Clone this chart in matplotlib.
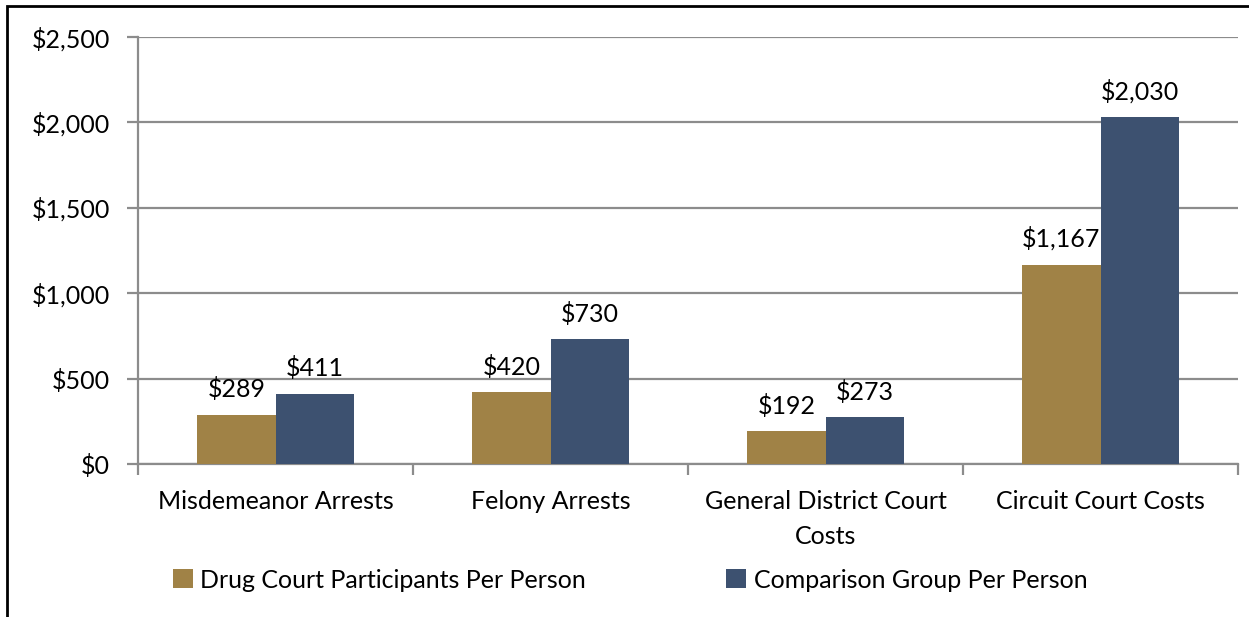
import matplotlib.pyplot as plt
from matplotlib.patches import Rectangle
import numpy as np

categories = ["Misdemeanor Arrests", "Felony Arrests", "General District Court\nCosts", "Circuit Court Costs"]
drug_court = [289, 420, 192, 1167]
comparison = [411, 730, 273, 2030]
series_names = ["Drug Court Participants Per Person", "Comparison Group Per Person"]
y_ticks = [0, 500, 1000, 1500, 2000, 2500]

tan = "#A08246"
navy = "#3D5170"
grey = "#8C8C8C"

plt.rcParams['font.family'] = ['Lato', 'DejaVu Sans']
fs = 18

fig = plt.figure(figsize=(12.49, 6.17), dpi=100)
ax = fig.add_axes([138/1249, 1-464/617, 1100/1249, 427/617])

x = np.arange(len(categories))
w = 0.284
b1 = ax.bar(x - w/2, drug_court, w, color=tan, label=series_names[0], zorder=3)
b2 = ax.bar(x + w/2, comparison, w, color=navy, label=series_names[1], zorder=3)

for bars, vals in ((b1, drug_court), (b2, comparison)):
    for r, v in zip(bars, vals):
        ax.text(r.get_x() + r.get_width()/2, v + 80, "${:,}".format(v),
                ha="center", va="bottom", fontsize=fs)

ax.set_xlim(-0.5, len(categories) - 0.5)
ax.set_ylim(0, 2500)
ax.set_yticks(y_ticks)
ax.set_yticklabels(["${:,}".format(t) for t in y_ticks], fontsize=fs)
ax.yaxis.grid(True, color=grey, linewidth=1.6, zorder=0)

ax.set_xticks(x)
ax.set_xticklabels(categories, fontsize=fs, va="top", linespacing=1.6)
ax.tick_params(axis="x", length=0, pad=19)
ax.set_xticks(np.arange(-0.5, len(categories)), minor=True)
ax.tick_params(axis="x", which="minor", length=8, width=1.6, color=grey, direction="out")
ax.tick_params(axis="y", length=8, width=1.6, color=grey, pad=12)

for s in ("top", "right"):
    ax.spines[s].set_visible(False)
for s in ("left", "bottom"):
    ax.spines[s].set_color(grey)
    ax.spines[s].set_linewidth(1.6)

leg = fig.legend(handles=[b1, b2], labels=series_names, loc="center left",
                 bbox_to_anchor=(163/1249, 1-580/617), ncol=2, frameon=False,
                 fontsize=fs, handlelength=0.8, handleheight=0.8,
                 handletextpad=0.3, columnspacing=5.6, borderaxespad=0)

fig.patches.append(Rectangle((7/1249, -0.1), 1.2, 1-6/617+0.1, transform=fig.transFigure,
                             fill=False, edgecolor="black", linewidth=2))

fig.savefig("out.png", dpi=100)
